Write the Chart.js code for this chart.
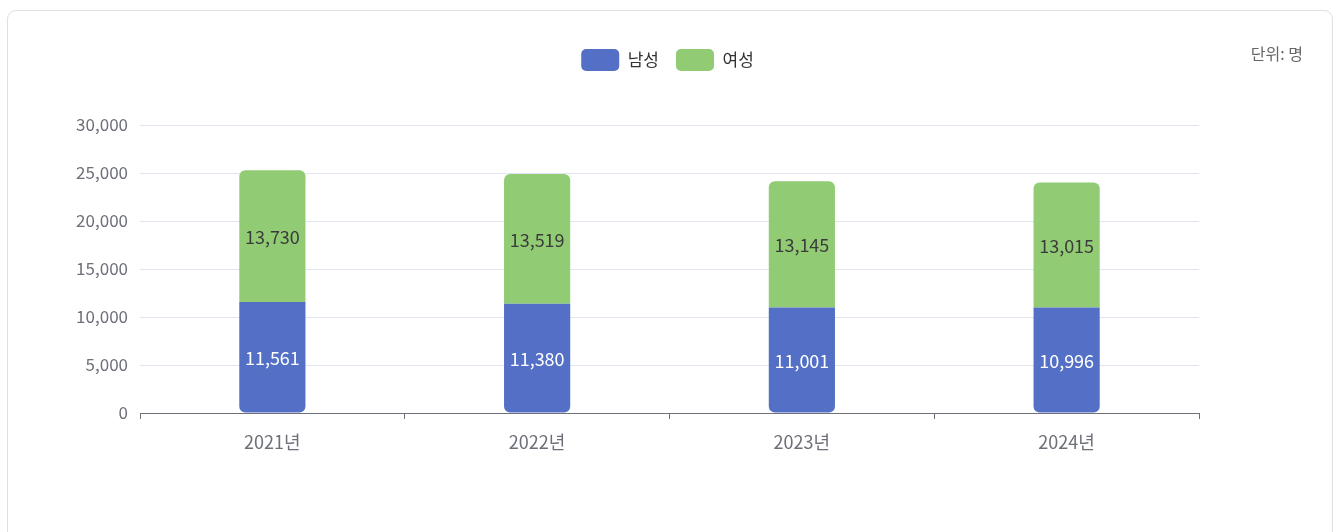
<!DOCTYPE html>
<html><head><meta charset="utf-8">
<script src="https://cdn.jsdelivr.net/npm/chart.js@4.4.1/dist/chart.umd.min.js"></script>
<style>
html,body{margin:0;padding:0;background:#fff;width:1337px;height:532px;overflow:hidden;font-family:"Noto Sans CJK KR","Noto Sans",sans-serif;}
#card{position:absolute;left:7px;top:10px;width:1326px;height:560px;border:1.5px solid #dfdfe6;border-radius:9px;box-sizing:border-box;}
#unit{position:absolute;right:34px;top:41px;font-size:16px;color:#666;}
canvas{position:absolute;left:0;top:0;}
</style></head>
<body>
<div id="card"></div>
<canvas id="c" width="1337" height="532"></canvas>
<div id="unit">단위: 명</div>
<script>
const categories = ["2021년", "2022년", "2023년", "2024년"];
const male = [11561, 11380, 11001, 10996];
const female = [13730, 13519, 13145, 13015];
const seriesNames = ["남성", "여성"];
const yTicks = [0, 5000, 10000, 15000, 20000, 25000, 30000];

const FONT = '"Noto Sans CJK KR","Noto Sans",sans-serif';

const labelPlugin = {
  id: 'barLabels',
  afterDatasetsDraw(chart) {
    const ctx = chart.ctx;
    ctx.save();
    ctx.textAlign = 'center';
    ctx.textBaseline = 'middle';
    ctx.font = '18px ' + FONT;
    chart.data.datasets.forEach((ds, i) => {
      const meta = chart.getDatasetMeta(i);
      meta.data.forEach((bar, j) => {
        const y = (bar.y + bar.base) / 2;
        ctx.fillStyle = i === 0 ? '#ffffff' : '#3b3b3b';
        ctx.fillText(ds.data[j].toLocaleString('en-US'), bar.x, y + 1);
      });
    });
    ctx.restore();
  }
};

const legendTweak = {
  id: 'legendTweak',
  beforeUpdate(chart) {
    const lg = chart.legend;
    if (lg && !lg._patched) {
      lg._patched = true;
      const fit = lg.fit;
      lg.fit = function () { fit.call(this); this.height += 45; };
      const draw = lg.draw;
      lg.draw = function () {
        const ctx = this.ctx;
        const dx = chart.width / 2 - (this.left + this.right) / 2 - 1;
        ctx.save();
        ctx.translate(dx, 1);
        draw.call(this);
        ctx.restore();
      };
    }
  }
};

new Chart(document.getElementById('c'), {
  type: 'bar',
  data: {
    labels: categories,
    datasets: [
      { label: seriesNames[0], data: male, backgroundColor: '#5470c6',
        borderRadius: { topLeft: 0, topRight: 0, bottomLeft: 6, bottomRight: 6 }, borderSkipped: false,
        barPercentage: 1, categoryPercentage: 0.25 },
      { label: seriesNames[1], data: female, backgroundColor: '#91cc75',
        borderRadius: { topLeft: 6, topRight: 6, bottomLeft: 0, bottomRight: 0 }, borderSkipped: false,
        barPercentage: 1, categoryPercentage: 0.25 }
    ]
  },
  options: {
    responsive: false,
    animation: false,
    layout: { padding: { left: 60, right: 138, top: 31, bottom: 59 } },
    plugins: {
      legend: {
        position: 'top',
        labels: {
          boxWidth: 38, boxHeight: 22, padding: 17, useBorderRadius: true, borderRadius: 5,
          color: '#333', font: { size: 17, family: FONT }
        }
      },
      tooltip: { enabled: false }
    },
    scales: {
      x: {
        stacked: true,
        afterFit(s) { s.height = 60; },
        grid: { display: true, drawOnChartArea: false, drawTicks: true, tickLength: 6, color: '#6e7079', offset: true },
        border: { display: true, color: '#6e7079', width: 1 },
        ticks: { color: '#6e7079', padding: 12, font: { size: 18, family: FONT } }
      },
      y: {
        stacked: true,
        min: 0, max: 30000,
        afterFit(s) { s.width = 80; },
        afterBuildTicks(s) { s.ticks = yTicks.map(v => ({ value: v })); },
        grid: { color: '#e0e6f1', drawTicks: false },
        border: { display: false },
        ticks: { color: '#6e7079', padding: 12, font: { size: 17, family: FONT },
          callback: v => v.toLocaleString('en-US') }
      }
    }
  },
  plugins: [labelPlugin, legendTweak]
});
</script>
</body></html>
